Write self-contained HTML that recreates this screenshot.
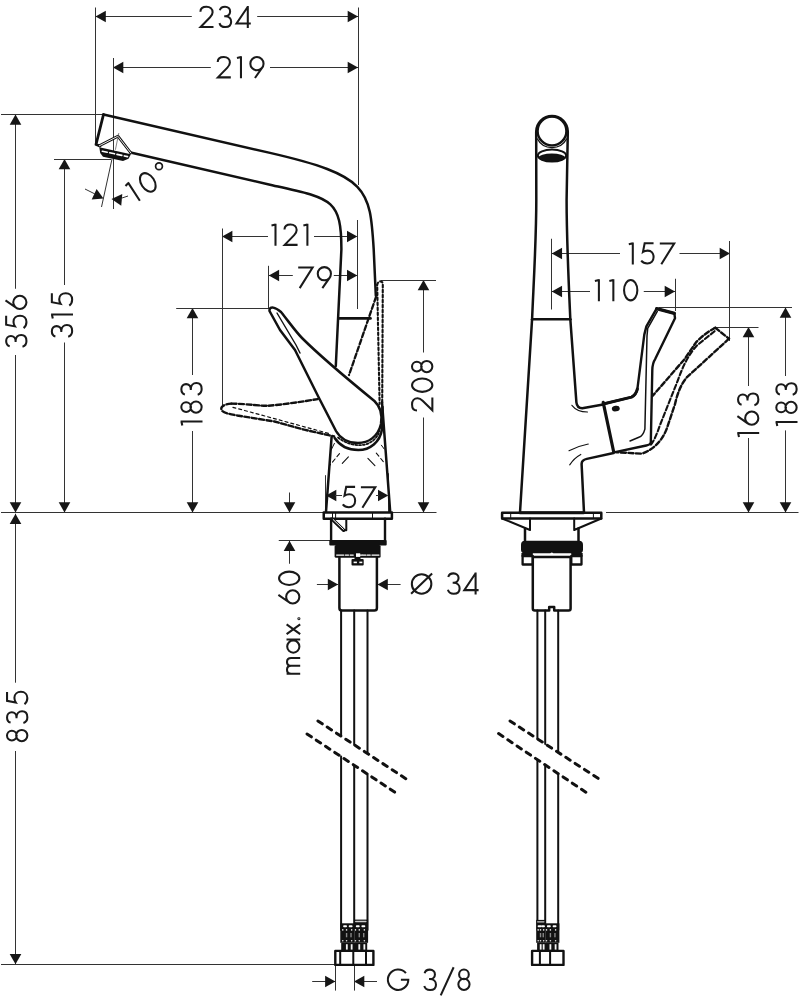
<!DOCTYPE html>
<html><head><meta charset="utf-8"><style>
html,body{margin:0;padding:0;background:#fff;font-family:"Liberation Sans",sans-serif;}
svg{display:block;}
.t{font-family:"Liberation Sans",sans-serif;fill:#1a1a1a;stroke:#fff;stroke-width:0.7px;}
</style></head><body>
<svg width="806" height="1000" viewBox="0 0 806 1000">
<rect width="806" height="1000" fill="#fff"/>
<line x1="95.5" y1="16.5" x2="191.8" y2="16.5" stroke="#333" stroke-width="1.0"/>
<line x1="257.2" y1="16.5" x2="358" y2="16.5" stroke="#333" stroke-width="1.0"/>
<polygon points="95.50,16.50 105.80,10.70 105.80,22.30" fill="#161616"/>
<polygon points="358.00,16.50 347.70,10.70 347.70,22.30" fill="#161616"/>
<g fill="none" stroke="#1a1a1a" stroke-width="2.05" stroke-linecap="butt" stroke-linejoin="miter"><path transform="translate(199.50,27.9)" d="M0.9,-16.2 C1,-19.6 3.7,-21.15 7,-21.15 C10.6,-21.15 13.1,-18.9 13.1,-15.6 C13.1,-13.4 12,-12 10.6,-10.6 L1.1,-0.85 L14,-0.85"/><path transform="translate(218.62,27.9)" d="M1.2,-17.6 C1.8,-20 3.8,-21.15 6.4,-21.15 C9.4,-21.15 11.5,-19.2 11.5,-16.4 C11.5,-13.6 9.4,-11.7 6.4,-11.7 L5.6,-11.7 M6.4,-11.7 C10.3,-11.7 12.55,-9.3 12.55,-6.1 C12.55,-2.7 10,-0.85 6.6,-0.85 C3.8,-0.85 1.6,-2.2 0.85,-4.8"/><path transform="translate(235.60,27.9)" d="M15.2,-4.4 L0.9,-4.4 L12.2,-21.2 M12.2,-22 L12.2,0"/></g>
<line x1="95.5" y1="7.5" x2="95.5" y2="145" stroke="#333" stroke-width="1.0"/>
<line x1="358.5" y1="7.5" x2="358.5" y2="185" stroke="#333" stroke-width="1.0"/>
<line x1="113" y1="67.5" x2="210.8" y2="67.5" stroke="#333" stroke-width="1.0"/>
<line x1="270" y1="67.5" x2="358" y2="67.5" stroke="#333" stroke-width="1.0"/>
<polygon points="113.00,67.50 123.30,61.70 123.30,73.30" fill="#161616"/>
<polygon points="358.00,67.50 347.70,61.70 347.70,73.30" fill="#161616"/>
<g fill="none" stroke="#1a1a1a" stroke-width="2.05" stroke-linecap="butt" stroke-linejoin="miter"><path transform="translate(216.80,78.2)" d="M0.9,-16.2 C1,-19.6 3.7,-21.15 7,-21.15 C10.6,-21.15 13.1,-18.9 13.1,-15.6 C13.1,-13.4 12,-12 10.6,-10.6 L1.1,-0.85 L14,-0.85"/><path transform="translate(236.37,78.2)" d="M0.6,-20.2 L4.6,-21.1 M4.6,-21.9 L4.6,0"/><path transform="translate(249.50,78.2)" d="M0.85,-14.55 A6.6,6.6 0 1 1 14.05,-14.55 A6.6,6.6 0 1 1 0.85,-14.55 Z M12.86,-10.76 L5.46,-0.20"/></g>
<line x1="113.5" y1="58" x2="113.5" y2="209" stroke="#333" stroke-width="1.0"/>
<line x1="15.5" y1="114.5" x2="15.5" y2="288.75" stroke="#333" stroke-width="1.0"/>
<line x1="15.5" y1="355" x2="15.5" y2="512.5" stroke="#333" stroke-width="1.0"/>
<polygon points="15.50,114.50 9.70,124.80 21.30,124.80" fill="#161616"/>
<polygon points="15.50,512.50 9.70,502.20 21.30,502.20" fill="#161616"/>
<g fill="none" stroke="#1a1a1a" stroke-width="2.05" stroke-linecap="butt" stroke-linejoin="miter"><path transform="translate(27.3,347.50) rotate(-90)" d="M1.2,-17.6 C1.8,-20 3.8,-21.15 6.4,-21.15 C9.4,-21.15 11.5,-19.2 11.5,-16.4 C11.5,-13.6 9.4,-11.7 6.4,-11.7 L5.6,-11.7 M6.4,-11.7 C10.3,-11.7 12.55,-9.3 12.55,-6.1 C12.55,-2.7 10,-0.85 6.6,-0.85 C3.8,-0.85 1.6,-2.2 0.85,-4.8"/><path transform="translate(27.3,329.00) rotate(-90)" d="M13.2,-21.15 L4.3,-21.15 L2.6,-12.4 C4,-13.3 5.6,-13.8 7.3,-13.8 C11,-13.8 13.25,-10.9 13.25,-7.3 C13.25,-3.3 10.6,-0.85 7,-0.85 C4.3,-0.85 2.2,-2 0.85,-3.7"/><path transform="translate(27.3,309.80) rotate(-90)" d="M0.85,-7.45 A6.6,6.6 0 1 1 14.05,-7.45 A6.6,6.6 0 1 1 0.85,-7.45 Z M2.04,-11.24 L9.44,-21.80"/></g>
<line x1="1" y1="114.5" x2="104" y2="114.5" stroke="#333" stroke-width="1.0"/>
<line x1="64.5" y1="159" x2="64.5" y2="285" stroke="#333" stroke-width="1.0"/>
<line x1="64.5" y1="342.5" x2="64.5" y2="512.5" stroke="#333" stroke-width="1.0"/>
<polygon points="64.50,159.00 58.70,169.30 70.30,169.30" fill="#161616"/>
<polygon points="64.50,512.50 58.70,502.20 70.30,502.20" fill="#161616"/>
<g fill="none" stroke="#1a1a1a" stroke-width="2.05" stroke-linecap="butt" stroke-linejoin="miter"><path transform="translate(73,337.60) rotate(-90)" d="M1.2,-17.6 C1.8,-20 3.8,-21.15 6.4,-21.15 C9.4,-21.15 11.5,-19.2 11.5,-16.4 C11.5,-13.6 9.4,-11.7 6.4,-11.7 L5.6,-11.7 M6.4,-11.7 C10.3,-11.7 12.55,-9.3 12.55,-6.1 C12.55,-2.7 10,-0.85 6.6,-0.85 C3.8,-0.85 1.6,-2.2 0.85,-4.8"/><path transform="translate(73,319.05) rotate(-90)" d="M0.6,-20.2 L4.6,-21.1 M4.6,-21.9 L4.6,0"/><path transform="translate(73,306.50) rotate(-90)" d="M13.2,-21.15 L4.3,-21.15 L2.6,-12.4 C4,-13.3 5.6,-13.8 7.3,-13.8 C11,-13.8 13.25,-10.9 13.25,-7.3 C13.25,-3.3 10.6,-0.85 7,-0.85 C4.3,-0.85 2.2,-2 0.85,-3.7"/></g>
<line x1="54" y1="159.5" x2="111" y2="159.5" stroke="#333" stroke-width="1.0"/>
<line x1="1" y1="512.5" x2="436.5" y2="512.5" stroke="#333" stroke-width="1.0"/>
<line x1="606" y1="512.5" x2="798.5" y2="512.5" stroke="#333" stroke-width="1.0"/>
<line x1="15.5" y1="513.75" x2="15.5" y2="682.7" stroke="#333" stroke-width="1.0"/>
<line x1="15.5" y1="751" x2="15.5" y2="964.3" stroke="#333" stroke-width="1.0"/>
<polygon points="15.50,513.75 9.70,524.05 21.30,524.05" fill="#161616"/>
<polygon points="15.50,964.30 9.70,954.00 21.30,954.00" fill="#161616"/>
<g fill="none" stroke="#1a1a1a" stroke-width="2.05" stroke-linecap="butt" stroke-linejoin="miter"><path transform="translate(28.2,742.00) rotate(-90)" d="M1.60,-16.35 A4.85,4.85 0 1 1 11.30,-16.35 A4.85,4.85 0 1 1 1.60,-16.35 Z M0.85,-6.45 A5.6,5.6 0 1 1 12.05,-6.45 A5.6,5.6 0 1 1 0.85,-6.45 Z"/><path transform="translate(28.2,723.80) rotate(-90)" d="M1.2,-17.6 C1.8,-20 3.8,-21.15 6.4,-21.15 C9.4,-21.15 11.5,-19.2 11.5,-16.4 C11.5,-13.6 9.4,-11.7 6.4,-11.7 L5.6,-11.7 M6.4,-11.7 C10.3,-11.7 12.55,-9.3 12.55,-6.1 C12.55,-2.7 10,-0.85 6.6,-0.85 C3.8,-0.85 1.6,-2.2 0.85,-4.8"/><path transform="translate(28.2,705.10) rotate(-90)" d="M13.2,-21.15 L4.3,-21.15 L2.6,-12.4 C4,-13.3 5.6,-13.8 7.3,-13.8 C11,-13.8 13.25,-10.9 13.25,-7.3 C13.25,-3.3 10.6,-0.85 7,-0.85 C4.3,-0.85 2.2,-2 0.85,-3.7"/></g>
<line x1="1" y1="964.5" x2="335.4" y2="964.5" stroke="#333" stroke-width="1.0"/>
<line x1="192.5" y1="308" x2="192.5" y2="375" stroke="#333" stroke-width="1.0"/>
<line x1="192.5" y1="431" x2="192.5" y2="512.5" stroke="#333" stroke-width="1.0"/>
<polygon points="192.50,308.00 186.70,318.30 198.30,318.30" fill="#161616"/>
<polygon points="192.50,512.50 186.70,502.20 198.30,502.20" fill="#161616"/>
<g fill="none" stroke="#1a1a1a" stroke-width="2.05" stroke-linecap="butt" stroke-linejoin="miter"><path transform="translate(202.5,426.00) rotate(-90)" d="M0.6,-20.2 L4.6,-21.1 M4.6,-21.9 L4.6,0"/><path transform="translate(202.5,413.56) rotate(-90)" d="M1.60,-16.35 A4.85,4.85 0 1 1 11.30,-16.35 A4.85,4.85 0 1 1 1.60,-16.35 Z M0.85,-6.45 A5.6,5.6 0 1 1 12.05,-6.45 A5.6,5.6 0 1 1 0.85,-6.45 Z"/><path transform="translate(202.5,395.60) rotate(-90)" d="M1.2,-17.6 C1.8,-20 3.8,-21.15 6.4,-21.15 C9.4,-21.15 11.5,-19.2 11.5,-16.4 C11.5,-13.6 9.4,-11.7 6.4,-11.7 L5.6,-11.7 M6.4,-11.7 C10.3,-11.7 12.55,-9.3 12.55,-6.1 C12.55,-2.7 10,-0.85 6.6,-0.85 C3.8,-0.85 1.6,-2.2 0.85,-4.8"/></g>
<line x1="176.2" y1="308.5" x2="269" y2="308.5" stroke="#333" stroke-width="1.0"/>
<line x1="423.5" y1="280" x2="423.5" y2="352.5" stroke="#333" stroke-width="1.0"/>
<line x1="423.5" y1="417.5" x2="423.5" y2="512.5" stroke="#333" stroke-width="1.0"/>
<polygon points="423.50,280.00 417.70,290.30 429.30,290.30" fill="#161616"/>
<polygon points="423.50,512.50 417.70,502.20 429.30,502.20" fill="#161616"/>
<g fill="none" stroke="#1a1a1a" stroke-width="2.05" stroke-linecap="butt" stroke-linejoin="miter"><path transform="translate(433.2,411.40) rotate(-90)" d="M0.9,-16.2 C1,-19.6 3.7,-21.15 7,-21.15 C10.6,-21.15 13.1,-18.9 13.1,-15.6 C13.1,-13.4 12,-12 10.6,-10.6 L1.1,-0.85 L14,-0.85"/><path transform="translate(433.2,392.70) rotate(-90)" d="M0.85,-11.00 A6.65,10.15 0 1 1 14.15,-11.00 A6.65,10.15 0 1 1 0.85,-11.00 Z"/><path transform="translate(433.2,373.00) rotate(-90)" d="M1.60,-16.35 A4.85,4.85 0 1 1 11.30,-16.35 A4.85,4.85 0 1 1 1.60,-16.35 Z M0.85,-6.45 A5.6,5.6 0 1 1 12.05,-6.45 A5.6,5.6 0 1 1 0.85,-6.45 Z"/></g>
<line x1="381" y1="280.5" x2="436" y2="280.5" stroke="#333" stroke-width="1.0"/>
<line x1="222.1" y1="236.5" x2="268" y2="236.5" stroke="#333" stroke-width="1.0"/>
<line x1="314" y1="236.5" x2="356.6" y2="236.5" stroke="#333" stroke-width="1.0"/>
<polygon points="222.10,236.50 232.40,230.70 232.40,242.30" fill="#161616"/>
<polygon points="357.30,236.50 347.00,230.70 347.00,242.30" fill="#161616"/>
<g fill="none" stroke="#1a1a1a" stroke-width="2.05" stroke-linecap="butt" stroke-linejoin="miter"><path transform="translate(270.90,245.7)" d="M0.6,-20.2 L4.6,-21.1 M4.6,-21.9 L4.6,0"/><path transform="translate(283.57,245.7)" d="M0.9,-16.2 C1,-19.6 3.7,-21.15 7,-21.15 C10.6,-21.15 13.1,-18.9 13.1,-15.6 C13.1,-13.4 12,-12 10.6,-10.6 L1.1,-0.85 L14,-0.85"/><path transform="translate(302.80,245.7)" d="M0.6,-20.2 L4.6,-21.1 M4.6,-21.9 L4.6,0"/></g>
<line x1="222.5" y1="228.5" x2="222.5" y2="406" stroke="#333" stroke-width="1.0"/>
<line x1="357.5" y1="220" x2="357.5" y2="309" stroke="#333" stroke-width="1.0"/>
<line x1="268.8" y1="275.5" x2="292.8" y2="275.5" stroke="#333" stroke-width="1.0"/>
<line x1="333.8" y1="275.5" x2="357.3" y2="275.5" stroke="#333" stroke-width="1.0"/>
<polygon points="268.80,275.50 279.10,269.70 279.10,281.30" fill="#161616"/>
<polygon points="357.30,275.50 347.00,269.70 347.00,281.30" fill="#161616"/>
<g fill="none" stroke="#1a1a1a" stroke-width="2.05" stroke-linecap="butt" stroke-linejoin="miter"><path transform="translate(297.70,288.3)" d="M0.5,-20.85 L14.9,-20.85 L2.0,-0.2"/><path transform="translate(316.90,288.3)" d="M0.85,-14.55 A6.6,6.6 0 1 1 14.05,-14.55 A6.6,6.6 0 1 1 0.85,-14.55 Z M12.86,-10.76 L5.46,-0.20"/></g>
<line x1="268.5" y1="265.8" x2="268.5" y2="308" stroke="#333" stroke-width="1.0"/>
<polygon points="326.00,495.50 336.30,489.70 336.30,501.30" fill="#161616"/>
<polygon points="388.30,495.50 378.00,489.70 378.00,501.30" fill="#161616"/>
<line x1="335" y1="495.5" x2="342" y2="495.5" stroke="#333" stroke-width="1.0"/>
<line x1="376" y1="495.5" x2="379" y2="495.5" stroke="#333" stroke-width="1.0"/>
<g fill="none" stroke="#1a1a1a" stroke-width="2.05" stroke-linecap="butt" stroke-linejoin="miter"><path transform="translate(341.90,508)" d="M13.2,-21.15 L4.3,-21.15 L2.6,-12.4 C4,-13.3 5.6,-13.8 7.3,-13.8 C11,-13.8 13.25,-10.9 13.25,-7.3 C13.25,-3.3 10.6,-0.85 7,-0.85 C4.3,-0.85 2.2,-2 0.85,-3.7"/><path transform="translate(360.40,508)" d="M0.5,-20.85 L14.9,-20.85 L2.0,-0.2"/></g>
<line x1="325.5" y1="475.2" x2="325.5" y2="512.5" stroke="#333" stroke-width="1.0"/>
<line x1="388.5" y1="473.3" x2="388.5" y2="512.5" stroke="#333" stroke-width="1.0"/>
<line x1="289.5" y1="492.5" x2="289.5" y2="512.5" stroke="#333" stroke-width="1.0"/>
<polygon points="289.50,512.50 283.70,502.20 295.30,502.20" fill="#161616"/>
<line x1="289.5" y1="540.75" x2="289.5" y2="563.75" stroke="#333" stroke-width="1.0"/>
<polygon points="289.50,540.75 283.70,551.05 295.30,551.05" fill="#161616"/>
<g fill="none" stroke="#1a1a1a" stroke-width="2.05" stroke-linecap="butt" stroke-linejoin="miter"><path transform="translate(300.2,674.60) rotate(-90)" d="M0.85,0 L0.85,-13.6 M0.85,-9 C0.85,-12 2.6,-13.2 4.9,-13.2 C7.4,-13.2 8.85,-12 8.85,-9 L8.85,0 M8.85,-9 C8.85,-12 10.4,-13.2 12.7,-13.2 C15.2,-13.2 16.65,-12 16.65,-9 L16.65,0"/><path transform="translate(300.2,653.53) rotate(-90)" d="M0.85,-6.90 A6.1,6.1 0 1 1 13.05,-6.90 A6.1,6.1 0 1 1 0.85,-6.90 Z M14.1,-13.7 L14.1,0"/><path transform="translate(300.2,634.97) rotate(-90)" d="M0.85,-13.6 L10.55,0 M10.55,-13.6 L0.85,0"/><path transform="translate(300.2,620.00) rotate(-90)" d="M0.80,-1.30 A0.5,0.5 0 1 1 1.80,-1.30 A0.5,0.5 0 1 1 0.80,-1.30 Z"/><path transform="translate(300.2,604.27) rotate(-90)" d="M0.85,-7.45 A6.6,6.6 0 1 1 14.05,-7.45 A6.6,6.6 0 1 1 0.85,-7.45 Z M2.04,-11.24 L9.44,-21.80"/><path transform="translate(300.2,585.80) rotate(-90)" d="M0.85,-11.00 A6.65,10.15 0 1 1 14.15,-11.00 A6.65,10.15 0 1 1 0.85,-11.00 Z"/></g>
<line x1="278.75" y1="540.5" x2="331" y2="540.5" stroke="#333" stroke-width="1.0"/>
<line x1="316.9" y1="584.5" x2="338.1" y2="584.5" stroke="#333" stroke-width="1.0"/>
<polygon points="338.10,584.50 327.80,578.70 327.80,590.30" fill="#161616"/>
<line x1="377.5" y1="584.5" x2="400.6" y2="584.5" stroke="#333" stroke-width="1.0"/>
<polygon points="377.50,584.50 387.80,578.70 387.80,590.30" fill="#161616"/>
<g fill="none" stroke="#1a1a1a" stroke-width="2.05" stroke-linecap="butt" stroke-linejoin="miter"><path transform="translate(410.50,594.5)" d="M1.35,-10.60 A9.75,9.75 0 1 1 20.85,-10.60 A9.75,9.75 0 1 1 1.35,-10.60 Z M0.6,-0.8 L21.6,-21"/><path transform="translate(447.07,594.5)" d="M1.2,-17.6 C1.8,-20 3.8,-21.15 6.4,-21.15 C9.4,-21.15 11.5,-19.2 11.5,-16.4 C11.5,-13.6 9.4,-11.7 6.4,-11.7 L5.6,-11.7 M6.4,-11.7 C10.3,-11.7 12.55,-9.3 12.55,-6.1 C12.55,-2.7 10,-0.85 6.6,-0.85 C3.8,-0.85 1.6,-2.2 0.85,-4.8"/><path transform="translate(463.40,594.5)" d="M15.2,-4.4 L0.9,-4.4 L12.2,-21.2 M12.2,-22 L12.2,0"/></g>
<line x1="312.2" y1="981.5" x2="335.4" y2="981.5" stroke="#333" stroke-width="1.0"/>
<polygon points="335.40,981.50 325.10,975.70 325.10,987.30" fill="#161616"/>
<line x1="354" y1="981.5" x2="377" y2="981.5" stroke="#333" stroke-width="1.0"/>
<polygon points="354.00,981.50 364.30,975.70 364.30,987.30" fill="#161616"/>
<line x1="335.5" y1="964.5" x2="335.5" y2="990.6" stroke="#333" stroke-width="1.0"/>
<line x1="354.5" y1="964.5" x2="354.5" y2="990.6" stroke="#333" stroke-width="1.0"/>
<g fill="none" stroke="#1a1a1a" stroke-width="2.05" stroke-linecap="butt" stroke-linejoin="miter"><path transform="translate(387.20,990.8)" d="M18.71,-17.66 A10.2,10.2 0 1 0 21.10,-11.10 L13.70,-11.10"/><path transform="translate(423.44,990.8)" d="M1.2,-17.6 C1.8,-20 3.8,-21.15 6.4,-21.15 C9.4,-21.15 11.5,-19.2 11.5,-16.4 C11.5,-13.6 9.4,-11.7 6.4,-11.7 L5.6,-11.7 M6.4,-11.7 C10.3,-11.7 12.55,-9.3 12.55,-6.1 C12.55,-2.7 10,-0.85 6.6,-0.85 C3.8,-0.85 1.6,-2.2 0.85,-4.8"/><path transform="translate(440.22,990.8)" d="M0.5,4.6 L13.4,-23.6"/><path transform="translate(457.50,990.8)" d="M1.60,-16.35 A4.85,4.85 0 1 1 11.30,-16.35 A4.85,4.85 0 1 1 1.60,-16.35 Z M0.85,-6.45 A5.6,5.6 0 1 1 12.05,-6.45 A5.6,5.6 0 1 1 0.85,-6.45 Z"/></g>
<line x1="551.75" y1="253.5" x2="620" y2="253.5" stroke="#333" stroke-width="1.0"/>
<line x1="679.5" y1="253.5" x2="730" y2="253.5" stroke="#333" stroke-width="1.0"/>
<polygon points="551.75,253.50 562.05,247.70 562.05,259.30" fill="#161616"/>
<polygon points="730.00,253.50 719.70,247.70 719.70,259.30" fill="#161616"/>
<g fill="none" stroke="#1a1a1a" stroke-width="2.05" stroke-linecap="butt" stroke-linejoin="miter"><path transform="translate(628.20,264.4)" d="M0.6,-20.2 L4.6,-21.1 M4.6,-21.9 L4.6,0"/><path transform="translate(640.35,264.4)" d="M13.2,-21.15 L4.3,-21.15 L2.6,-12.4 C4,-13.3 5.6,-13.8 7.3,-13.8 C11,-13.8 13.25,-10.9 13.25,-7.3 C13.25,-3.3 10.6,-0.85 7,-0.85 C4.3,-0.85 2.2,-2 0.85,-3.7"/><path transform="translate(659.30,264.4)" d="M0.5,-20.85 L14.9,-20.85 L2.0,-0.2"/></g>
<line x1="551.5" y1="238.75" x2="551.5" y2="309.5" stroke="#333" stroke-width="1.0"/>
<line x1="729.5" y1="241" x2="729.5" y2="341" stroke="#333" stroke-width="1.0"/>
<line x1="551.75" y1="291.5" x2="590" y2="291.5" stroke="#333" stroke-width="1.0"/>
<line x1="643.75" y1="291.5" x2="675" y2="291.5" stroke="#333" stroke-width="1.0"/>
<polygon points="551.75,291.50 562.05,285.70 562.05,297.30" fill="#161616"/>
<polygon points="675.00,291.50 664.70,285.70 664.70,297.30" fill="#161616"/>
<g fill="none" stroke="#1a1a1a" stroke-width="2.05" stroke-linecap="butt" stroke-linejoin="miter"><path transform="translate(594.30,301.2)" d="M0.6,-20.2 L4.6,-21.1 M4.6,-21.9 L4.6,0"/><path transform="translate(608.75,301.2)" d="M0.6,-20.2 L4.6,-21.1 M4.6,-21.9 L4.6,0"/><path transform="translate(623.20,301.2)" d="M0.85,-11.00 A6.65,10.15 0 1 1 14.15,-11.00 A6.65,10.15 0 1 1 0.85,-11.00 Z"/></g>
<line x1="675.5" y1="278.75" x2="675.5" y2="311" stroke="#333" stroke-width="1.0"/>
<line x1="748.5" y1="327" x2="748.5" y2="386" stroke="#333" stroke-width="1.0"/>
<line x1="748.5" y1="438" x2="748.5" y2="512.5" stroke="#333" stroke-width="1.0"/>
<polygon points="748.50,327.00 742.70,337.30 754.30,337.30" fill="#161616"/>
<polygon points="748.50,512.50 742.70,502.20 754.30,502.20" fill="#161616"/>
<g fill="none" stroke="#1a1a1a" stroke-width="2.05" stroke-linecap="butt" stroke-linejoin="miter"><path transform="translate(759.2,437.50) rotate(-90)" d="M0.6,-20.2 L4.6,-21.1 M4.6,-21.9 L4.6,0"/><path transform="translate(759.2,425.58) rotate(-90)" d="M0.85,-7.45 A6.6,6.6 0 1 1 14.05,-7.45 A6.6,6.6 0 1 1 0.85,-7.45 Z M2.04,-11.24 L9.44,-21.80"/><path transform="translate(759.2,406.00) rotate(-90)" d="M1.2,-17.6 C1.8,-20 3.8,-21.15 6.4,-21.15 C9.4,-21.15 11.5,-19.2 11.5,-16.4 C11.5,-13.6 9.4,-11.7 6.4,-11.7 L5.6,-11.7 M6.4,-11.7 C10.3,-11.7 12.55,-9.3 12.55,-6.1 C12.55,-2.7 10,-0.85 6.6,-0.85 C3.8,-0.85 1.6,-2.2 0.85,-4.8"/></g>
<line x1="713.5" y1="327.5" x2="758.5" y2="327.5" stroke="#333" stroke-width="1.0"/>
<line x1="785.5" y1="307.5" x2="785.5" y2="376" stroke="#333" stroke-width="1.0"/>
<line x1="785.5" y1="430.4" x2="785.5" y2="512.5" stroke="#333" stroke-width="1.0"/>
<polygon points="785.50,307.50 779.70,317.80 791.30,317.80" fill="#161616"/>
<polygon points="785.50,512.50 779.70,502.20 791.30,502.20" fill="#161616"/>
<g fill="none" stroke="#1a1a1a" stroke-width="2.05" stroke-linecap="butt" stroke-linejoin="miter"><path transform="translate(797.5,426.60) rotate(-90)" d="M0.6,-20.2 L4.6,-21.1 M4.6,-21.9 L4.6,0"/><path transform="translate(797.5,413.88) rotate(-90)" d="M1.60,-16.35 A4.85,4.85 0 1 1 11.30,-16.35 A4.85,4.85 0 1 1 1.60,-16.35 Z M0.85,-6.45 A5.6,5.6 0 1 1 12.05,-6.45 A5.6,5.6 0 1 1 0.85,-6.45 Z"/><path transform="translate(797.5,395.70) rotate(-90)" d="M1.2,-17.6 C1.8,-20 3.8,-21.15 6.4,-21.15 C9.4,-21.15 11.5,-19.2 11.5,-16.4 C11.5,-13.6 9.4,-11.7 6.4,-11.7 L5.6,-11.7 M6.4,-11.7 C10.3,-11.7 12.55,-9.3 12.55,-6.1 C12.55,-2.7 10,-0.85 6.6,-0.85 C3.8,-0.85 1.6,-2.2 0.85,-4.8"/></g>
<line x1="658.5" y1="307.5" x2="792" y2="307.5" stroke="#333" stroke-width="1.0"/>
<path d="M103.5,114.5 L270,152.9 C368.4,175.6 370,188.4 373.7,249.3 L375.8,295.5" fill="none" stroke="#111" stroke-width="2.5" stroke-linejoin="round" stroke-linecap="round" />
<path d="M382,402 L390.2,511.8" fill="none" stroke="#111" stroke-width="2.5" stroke-linejoin="round" stroke-linecap="round" />
<path d="M103.5,114.5 L96,144.5 L100,146" fill="none" stroke="#111" stroke-width="2.8" stroke-linejoin="round" stroke-linecap="round" />
<path d="M130.5,152.5 L270,184.7 C330.4,198.6 341.4,197.3 341.4,249.3 L335.8,366" fill="none" stroke="#111" stroke-width="2.5" stroke-linejoin="round" stroke-linecap="round" />
<path d="M331.6,437 L326,511.8" fill="none" stroke="#111" stroke-width="2.5" stroke-linejoin="round" stroke-linecap="round" />
<path d="M338.75,318.4 L370.5,318.4" fill="none" stroke="#111" stroke-width="2.6" stroke-linejoin="round" stroke-linecap="round" />
<path d="M99.3,145.8 L117.9,136.2 L130.9,153" fill="none" stroke="#111" stroke-width="2.8" stroke-linejoin="round" stroke-linecap="round" />
<path d="M99.3,145.8 L117.9,136.2 L130.9,153" fill="none" stroke="#fff" stroke-width="0.9" stroke-linejoin="round" stroke-linecap="round" />
<polygon points="99.3,147.3 130.9,154.2 128.5,158.8 123,161 103,156.8 100.2,153" fill="#111"/>
<path d="M102.3,151.2 L127.5,156.6" fill="none" stroke="#fff" stroke-width="1.6" stroke-linejoin="round" stroke-linecap="round" stroke-dasharray="5 2.5"/>
<line x1="118.8" y1="133" x2="115.4" y2="149.8" stroke="#666" stroke-width="0.8"/>
<path d="M269.5,310 C270,306 275,307 281,312 C289,322 296,332 302,338 C320,356 345,377 374.4,401 C382,408 382,418 381,424 C378,437 368,443 358,443 C348,443 340,438 336,431 L318.6,397.2 L295,350 L280,330 L269.5,311 Z" fill="none" stroke="#111" stroke-width="2.5" stroke-linejoin="round" stroke-linecap="round" />
<path d="M277,313 L296,345 L300,353" fill="none" stroke="#111" stroke-width="1.4" stroke-linejoin="round" stroke-linecap="round" />
<path d="M334.7,438 C340,446 348,450 358.3,450 C370,450 380,442 382,429.5 L382.5,407" fill="none" stroke="#111" stroke-width="2.5" stroke-linejoin="round" stroke-linecap="round" />
<path d="M231.4,403.6 C250,404 260,406 267,405.8 C280,405 300,402 317.7,399.1" fill="none" stroke="#111" stroke-width="2.4" stroke-linejoin="round" stroke-linecap="round" stroke-dasharray="5 2.5"/>
<path d="M231.4,403.6 C224,404 220,407 221.7,410 C222.5,413 230,414 237.3,415.5 L274.5,421.5 L304.3,429.7 L334.1,436.4" fill="none" stroke="#111" stroke-width="2.4" stroke-linejoin="round" stroke-linecap="round" stroke-dasharray="5 2.5"/>
<path d="M338,437.5 C345,443 352,445 359.8,445.2 C368,445 376,441 379.8,431" fill="none" stroke="#111" stroke-width="1.7" stroke-linejoin="round" stroke-linecap="round" stroke-dasharray="2 1.8"/>
<path d="M232.9,407.3 L331.1,434.1" fill="none" stroke="#111" stroke-width="1.2" stroke-linejoin="round" stroke-linecap="round" stroke-dasharray="3 3"/>
<path d="M377.2,285 C377.5,281 382,280 382.8,283.5 L382.2,404" fill="none" stroke="#111" stroke-width="2.1" stroke-linejoin="round" stroke-linecap="round" stroke-dasharray="2.6 2.4"/>
<path d="M377.2,285 L379.6,404" fill="none" stroke="#111" stroke-width="2.1" stroke-linejoin="round" stroke-linecap="round" stroke-dasharray="2.6 2.4" stroke-dashoffset="2.5"/>
<path d="M376,297 L349,375" fill="none" stroke="#111" stroke-width="2.3" stroke-linejoin="round" stroke-linecap="round" stroke-dasharray="5 2.5"/>
<path d="M334.4,443.4 L331.2,449.9 M381.4,445.2 L384.2,449" fill="none" stroke="#111" stroke-width="1.0" stroke-linejoin="round" stroke-linecap="round" />
<path d="M339.5,453.6 L330.2,464.8 M376.3,453.1 L385.1,463.8" fill="none" stroke="#111" stroke-width="1.1" stroke-linejoin="round" stroke-linecap="round" stroke-dasharray="4 3"/>
<path d="M348.4,456.9 L342.3,463.4 M367.9,458.3 L374.9,465.7" fill="none" stroke="#111" stroke-width="1.1" stroke-linejoin="round" stroke-linecap="round" />
<line x1="112" y1="159" x2="101.5" y2="207" stroke="#333" stroke-width="1"/>
<polygon points="103.50,198.50 91.71,199.40 96.62,188.89" fill="#161616"/>
<line x1="85" y1="189" x2="95" y2="194" stroke="#333" stroke-width="1.0"/>
<polygon points="111.50,199.00 122.27,194.12 121.26,205.68" fill="#161616"/>
<line x1="122" y1="198" x2="128" y2="196" stroke="#333" stroke-width="1.0"/>
<g fill="none" stroke="#1a1a1a" stroke-width="2.05" stroke-linecap="butt" stroke-linejoin="miter"><path transform="translate(136.0,203.2) rotate(-33) translate(0.00,0)" d="M0.6,-20.2 L4.6,-21.1 M4.6,-21.9 L4.6,0"/><path transform="translate(136.0,203.2) rotate(-33) translate(13.70,0)" d="M0.85,-11.00 A6.65,10.15 0 1 1 14.15,-11.00 A6.65,10.15 0 1 1 0.85,-11.00 Z"/></g>
<circle cx="159" cy="166.3" r="3.4" fill="none" stroke="#1a1a1a" stroke-width="1.7"/>
<path d="M323.75,512.5 L391.9,512.5 L391.9,518.75 L323.75,518.75 Z" fill="none" stroke="#111" stroke-width="2.5" stroke-linejoin="round" stroke-linecap="round" />
<path d="M332.5,513 L332.5,518 M335.6,513 L335.6,518 M372.5,513 L372.5,518" fill="none" stroke="#111" stroke-width="1" stroke-linejoin="round" stroke-linecap="round" />
<path d="M331.1,518.75 L331.1,540.6 M385,518.75 L385,540.6" fill="none" stroke="#111" stroke-width="2.4" stroke-linejoin="round" stroke-linecap="round" />
<path d="M332.2,519.2 L343.6,530.2 L346.3,530.2 L346.3,519" fill="none" stroke="#111" stroke-width="2.0" stroke-linejoin="round" stroke-linecap="round" />
<path d="M332.2,519.2 L343.6,530.2" fill="none" stroke="#111" stroke-width="3.4" stroke-linejoin="round" stroke-linecap="round" />
<path d="M333.2,519.6 L343.4,529.4" fill="none" stroke="#fff" stroke-width="1.0" stroke-linejoin="round" stroke-linecap="round" />
<rect x="329.3" y="540" width="57.4" height="5.6" rx="1" fill="#111"/>
<rect x="334.6" y="545" width="46" height="12.8" rx="1.5" fill="#111"/>
<path d="M336.7,555.1 L343.7,555.1 M345.4,555.1 L348.5,555.1 M350.2,555.1 L353.2,555.1 M358.5,555.1 L362.2,555.1 M362.4,555.1 L365.8,555.1 M367.2,555.1 L370.2,555.1 M372,555.1 L378.9,555.1" fill="none" stroke="#fff" stroke-width="1.4" stroke-linejoin="round" stroke-linecap="round" />
<rect x="356" y="553.3" width="4.2" height="3.6" fill="#fff"/>
<path d="M339.4,557.5 L339.4,608 Q339.4,610.6 342,610.6 L374.3,610.6 Q376.9,610.6 376.9,608 L376.9,557.5" fill="none" stroke="#111" stroke-width="2.5" stroke-linejoin="round" stroke-linecap="round" />
<rect x="354.5" y="557" width="6" height="2.5" fill="#111"/>
<rect x="351.5" y="559" width="12.2" height="6.6" rx="1" fill="#111"/>
<rect x="353.6" y="561.6" width="3.3" height="1.6" fill="#fff"/>
<rect x="359.3" y="561.6" width="3" height="1.6" fill="#fff"/>
<path d="M341.1,610.6 L341.1,736.2 M341.1,756.5 L341.1,930" fill="none" stroke="#111" stroke-width="2" stroke-linejoin="round" stroke-linecap="round" />
<path d="M354.2,610.6 L354.2,744.8 M354.2,765.2 L354.2,930" fill="none" stroke="#111" stroke-width="2" stroke-linejoin="round" stroke-linecap="round" />
<path d="M367.5,610.6 L367.5,753.5 M367.5,774 L367.5,930" fill="none" stroke="#111" stroke-width="2" stroke-linejoin="round" stroke-linecap="round" />
<path d="M317.9,721 L406.3,779" fill="none" stroke="#111" stroke-width="3" stroke-linejoin="round" stroke-linecap="round" stroke-dasharray="5.2 5.9"/>
<path d="M307,734 L396,793" fill="none" stroke="#111" stroke-width="3" stroke-linejoin="round" stroke-linecap="round" stroke-dasharray="5.2 5.9"/>
<rect x="340.30" y="923.3" width="13.90" height="19.50" fill="#111"/>
<rect x="354.20" y="919.6" width="13.90" height="23.20" fill="#111"/>
<path d="M355.70,921.50 L365.90,921.50" fill="none" stroke="#ccc" stroke-width="1.3" stroke-linejoin="round" stroke-linecap="round" />
<rect x="343.16" y="925.20" width="3.8" height="2.0" rx="0.8" fill="#fff"/>
<rect x="348.74" y="925.20" width="3.8" height="2.0" rx="0.8" fill="#fff"/>
<rect x="355.86" y="925.20" width="3.8" height="2.0" rx="0.8" fill="#fff"/>
<rect x="361.44" y="925.20" width="3.8" height="2.0" rx="0.8" fill="#fff"/>
<circle cx="342.77" cy="929.90" r="0.8" fill="#eee"/>
<circle cx="355.47" cy="929.90" r="0.8" fill="#eee"/>
<circle cx="346.58" cy="929.90" r="0.8" fill="#eee"/>
<circle cx="359.28" cy="929.90" r="0.8" fill="#eee"/>
<circle cx="351.66" cy="929.90" r="0.8" fill="#eee"/>
<circle cx="364.36" cy="929.90" r="0.8" fill="#eee"/>
<circle cx="342.77" cy="940.70" r="0.8" fill="#eee"/>
<circle cx="355.47" cy="940.70" r="0.8" fill="#eee"/>
<circle cx="346.58" cy="940.70" r="0.8" fill="#eee"/>
<circle cx="359.28" cy="940.70" r="0.8" fill="#eee"/>
<circle cx="351.66" cy="940.70" r="0.8" fill="#eee"/>
<circle cx="364.36" cy="940.70" r="0.8" fill="#eee"/>
<rect x="345.88" y="933" width="1.4" height="4.3" fill="#888"/>
<rect x="350.32" y="933" width="1.4" height="4.3" fill="#888"/>
<rect x="358.58" y="933" width="1.4" height="4.3" fill="#888"/>
<rect x="363.02" y="933" width="1.4" height="4.3" fill="#888"/>
<rect x="341.20" y="942.8" width="26.00" height="8.1" fill="#111"/>
<rect x="345.93" y="944.2" width="1.8" height="5.6" fill="#f4f4f4"/>
<rect x="350.76" y="944.2" width="1.8" height="5.6" fill="#f4f4f4"/>
<rect x="358.38" y="944.2" width="1.8" height="5.6" fill="#f4f4f4"/>
<rect x="363.46" y="944.2" width="1.8" height="5.6" fill="#f4f4f4"/>
<path d="M335.3,950.9 L373.4,950.9 L373.4,964.9 L335.3,964.9 Z" fill="none" stroke="#111" stroke-width="2.4" stroke-linejoin="round" stroke-linecap="round" />
<path d="M340.2,951 L340.2,964.5 M353.3,951 L353.3,964.5 M366.0,951 L366.0,964.5" fill="none" stroke="#111" stroke-width="2.0" stroke-linejoin="round" stroke-linecap="round" />
<path d="M536.2,131.8 A15.8,15.8 0 0 1 567.8,131.8" fill="none" stroke="#111" stroke-width="2.5" stroke-linejoin="round" stroke-linecap="round" />
<circle cx="552" cy="131" r="14.4" fill="none" stroke="#111" stroke-width="2.4"/>
<path d="M537.5,139 C541,146 547,147.5 552,147.5 C557,147.5 563,146 566.5,139" fill="none" stroke="#111" stroke-width="1.3" stroke-linejoin="round" stroke-linecap="round" />
<ellipse cx="552" cy="155.6" rx="14.2" ry="6" fill="none" stroke="#111" stroke-width="2"/>
<ellipse cx="551.8" cy="157.6" rx="13.2" ry="4.2" fill="#111"/>
<path d="M536.2,131.8 L536.3,200 C536.3,240 533.5,285 532.1,318.9 L520,512.5" fill="none" stroke="#111" stroke-width="2.5" stroke-linejoin="round" stroke-linecap="round" />
<path d="M567.8,131.8 L566.6,200 C566.6,240 568.8,285 570.3,318.9 L576.4,402.3 Q577,408 582.3,408.3 L603.2,404.6" fill="none" stroke="#111" stroke-width="2.5" stroke-linejoin="round" stroke-linecap="round" />
<path d="M532.1,319.2 L570.5,319.2" fill="none" stroke="#111" stroke-width="2.6" stroke-linejoin="round" stroke-linecap="round" />
<path d="M603.2,404 L631.5,397.1 Q636,395 637.4,388.9 L644.3,334.6 L646.4,326.4 L656.6,308.6 L674.4,313.4 L675,318.2 L655.2,359.1 Q652.5,363 652.3,370 L650.8,442.5 Q650,445 646.3,445.5 L615.1,452.2" fill="none" stroke="#111" stroke-width="2.4" stroke-linejoin="round" stroke-linecap="round" />
<path d="M656.6,308.6 L674.4,313.4" fill="none" stroke="#111" stroke-width="3.2" stroke-linejoin="round" stroke-linecap="round" />
<path d="M657.3,311.4 L647.7,328.4 L647,336 L644.9,429.1 Q643,436 638.9,437.3 L630,441" fill="none" stroke="#111" stroke-width="1.5" stroke-linejoin="round" stroke-linecap="round" />
<path d="M603.2,404 L631.5,397.1 Q636,395 637.4,388.9" fill="none" stroke="#111" stroke-width="3.0" stroke-linejoin="round" stroke-linecap="round" />
<path d="M603.2,402.3 L613.6,451.5" fill="none" stroke="#111" stroke-width="3.2" stroke-linejoin="round" stroke-linecap="round" />
<ellipse cx="615.8" cy="408.6" rx="4" ry="2.8" fill="#111" transform="rotate(-10 615.8 408.6)"/>
<path d="M613.6,453 L586.8,458.9 Q581.6,460 581.6,464 L584,512.5" fill="none" stroke="#111" stroke-width="2.5" stroke-linejoin="round" stroke-linecap="round" />
<path d="M571.9,405.3 Q577,412 587.5,412" fill="none" stroke="#111" stroke-width="1.1" stroke-linejoin="round" stroke-linecap="round" />
<path d="M569,450.7 Q578,446 588.3,444" fill="none" stroke="#111" stroke-width="1.1" stroke-linejoin="round" stroke-linecap="round" />
<path d="M569.7,464.9 Q574,458 580.8,454.4" fill="none" stroke="#111" stroke-width="1.1" stroke-linejoin="round" stroke-linecap="round" />
<path d="M715.3,327.8 L729,338.7" fill="none" stroke="#111" stroke-width="2.4" stroke-linejoin="round" stroke-linecap="round" stroke-dasharray="5 2.5"/>
<path d="M729,338.7 L687.3,376.9 Q679,386 675,404.2 L667,428 Q660,447 641.9,453.7 L616.6,452.2" fill="none" stroke="#111" stroke-width="2.4" stroke-linejoin="round" stroke-linecap="round" stroke-dasharray="5 2.5"/>
<path d="M715.3,327.8 Q705,333 696.2,342.1 L684.6,359.1 L652.5,396" fill="none" stroke="#111" stroke-width="2.4" stroke-linejoin="round" stroke-linecap="round" stroke-dasharray="5 2.5"/>
<path d="M714.6,331.2 L696.9,345.5 Q686,357 678,380 L660,425 Q655,440 650,446" fill="none" stroke="#111" stroke-width="2.1" stroke-linejoin="round" stroke-linecap="round" stroke-dasharray="5 2.5"/>
<path d="M502.1,512.8 L601.3,512.8 L601.3,518.5 L502.1,518.5 Z" fill="none" stroke="#111" stroke-width="2.5" stroke-linejoin="round" stroke-linecap="round" />
<path d="M520,512.8 L583.5,512.8" fill="none" stroke="#111" stroke-width="3" stroke-linejoin="round" stroke-linecap="round" />
<path d="M510.7,513.5 L510.7,518 M593.4,513.5 L593.4,518" fill="none" stroke="#111" stroke-width="1" stroke-linejoin="round" stroke-linecap="round" />
<path d="M502.1,518.5 L530,530 L530,518.5 M601.3,518.5 L574.2,530 L574.2,518.5" fill="none" stroke="#111" stroke-width="2" stroke-linejoin="round" stroke-linecap="round" />
<path d="M525,528.5 L525,540.7 M578.5,528.5 L578.5,540.7" fill="none" stroke="#111" stroke-width="2.5" stroke-linejoin="round" stroke-linecap="round" />
<rect x="521" y="540.7" width="62" height="12.8" rx="4" fill="#111"/>
<path d="M532.8,554.2 L570.6,554.2" fill="none" stroke="#fff" stroke-width="1.2" stroke-linejoin="round" stroke-linecap="round" />
<circle cx="551.8" cy="554.2" r="1.6" fill="#fff"/>
<rect x="521.4" y="553" width="11.4" height="3.6" fill="#111"/>
<rect x="571.3" y="553" width="11.4" height="3.6" fill="#111"/>
<path d="M522.6,556 L532.8,556 L532.8,564.5 L522.6,564.5 Z" fill="#fff" stroke="#111" stroke-width="2.3" stroke-linejoin="round" stroke-linecap="round" />
<path d="M571.3,556 L581.5,556 L581.5,564.5 L571.3,564.5 Z" fill="#fff" stroke="#111" stroke-width="2.3" stroke-linejoin="round" stroke-linecap="round" />
<path d="M532.8,557 L532.8,608.6 Q532.8,610.6 534.8,610.6 L549.2,610.6 L549.2,607 L554.2,607 L554.2,610.6 L568.6,610.6 Q570.6,610.6 570.6,608.6 L570.6,557 Z" fill="none" stroke="#111" stroke-width="2.5" stroke-linejoin="round" stroke-linecap="round" />
<path d="M537.4,610.6 L537.4,738.8 M537.4,759.7 L537.4,930" fill="none" stroke="#111" stroke-width="2" stroke-linejoin="round" stroke-linecap="round" />
<path d="M545.2,610.6 L545.2,743.9 M545.2,764.9 L545.2,930" fill="none" stroke="#111" stroke-width="2" stroke-linejoin="round" stroke-linecap="round" />
<path d="M558.2,610.6 L558.2,752.4 M558.2,773.7 L558.2,930" fill="none" stroke="#111" stroke-width="2" stroke-linejoin="round" stroke-linecap="round" />
<path d="M510,721 L600,779.6" fill="none" stroke="#111" stroke-width="3" stroke-linejoin="round" stroke-linecap="round" stroke-dasharray="5.2 5.9"/>
<path d="M498.6,733.6 L588,793.7" fill="none" stroke="#111" stroke-width="3" stroke-linejoin="round" stroke-linecap="round" stroke-dasharray="5.2 5.9"/>
<rect x="536.20" y="919.9" width="9.00" height="22.90" fill="#111"/>
<rect x="545.20" y="923.3" width="14.20" height="19.50" fill="#111"/>
<path d="M537.70,921.80 L543.90,921.80" fill="none" stroke="#ccc" stroke-width="1.3" stroke-linejoin="round" stroke-linecap="round" />
<rect x="537.68" y="925.20" width="3.8" height="2.0" rx="0.8" fill="#fff"/>
<rect x="541.12" y="925.20" width="3.8" height="2.0" rx="0.8" fill="#fff"/>
<rect x="546.94" y="925.20" width="3.8" height="2.0" rx="0.8" fill="#fff"/>
<rect x="552.66" y="925.20" width="3.8" height="2.0" rx="0.8" fill="#fff"/>
<circle cx="538.18" cy="929.90" r="0.8" fill="#eee"/>
<circle cx="546.50" cy="929.90" r="0.8" fill="#eee"/>
<circle cx="540.52" cy="929.90" r="0.8" fill="#eee"/>
<circle cx="550.40" cy="929.90" r="0.8" fill="#eee"/>
<circle cx="543.64" cy="929.90" r="0.8" fill="#eee"/>
<circle cx="555.60" cy="929.90" r="0.8" fill="#eee"/>
<circle cx="538.18" cy="940.70" r="0.8" fill="#eee"/>
<circle cx="546.50" cy="940.70" r="0.8" fill="#eee"/>
<circle cx="540.52" cy="940.70" r="0.8" fill="#eee"/>
<circle cx="550.40" cy="940.70" r="0.8" fill="#eee"/>
<circle cx="543.64" cy="940.70" r="0.8" fill="#eee"/>
<circle cx="555.60" cy="940.70" r="0.8" fill="#eee"/>
<rect x="539.82" y="933" width="1.4" height="4.3" fill="#888"/>
<rect x="542.55" y="933" width="1.4" height="4.3" fill="#888"/>
<rect x="549.70" y="933" width="1.4" height="4.3" fill="#888"/>
<rect x="554.25" y="933" width="1.4" height="4.3" fill="#888"/>
<rect x="537.10" y="942.8" width="21.40" height="8.1" fill="#111"/>
<rect x="539.78" y="944.2" width="1.8" height="5.6" fill="#f4f4f4"/>
<rect x="542.74" y="944.2" width="1.8" height="5.6" fill="#f4f4f4"/>
<rect x="549.50" y="944.2" width="1.8" height="5.6" fill="#f4f4f4"/>
<rect x="554.70" y="944.2" width="1.8" height="5.6" fill="#f4f4f4"/>
<path d="M532.1,950.9 L563.5,950.9 L563.5,964.9 L532.1,964.9 Z" fill="none" stroke="#111" stroke-width="2.4" stroke-linejoin="round" stroke-linecap="round" />
<path d="M539.9,951 L539.9,964.5 M550.1,951 L550.1,964.5" fill="none" stroke="#111" stroke-width="2.0" stroke-linejoin="round" stroke-linecap="round" />
</svg></body></html>
